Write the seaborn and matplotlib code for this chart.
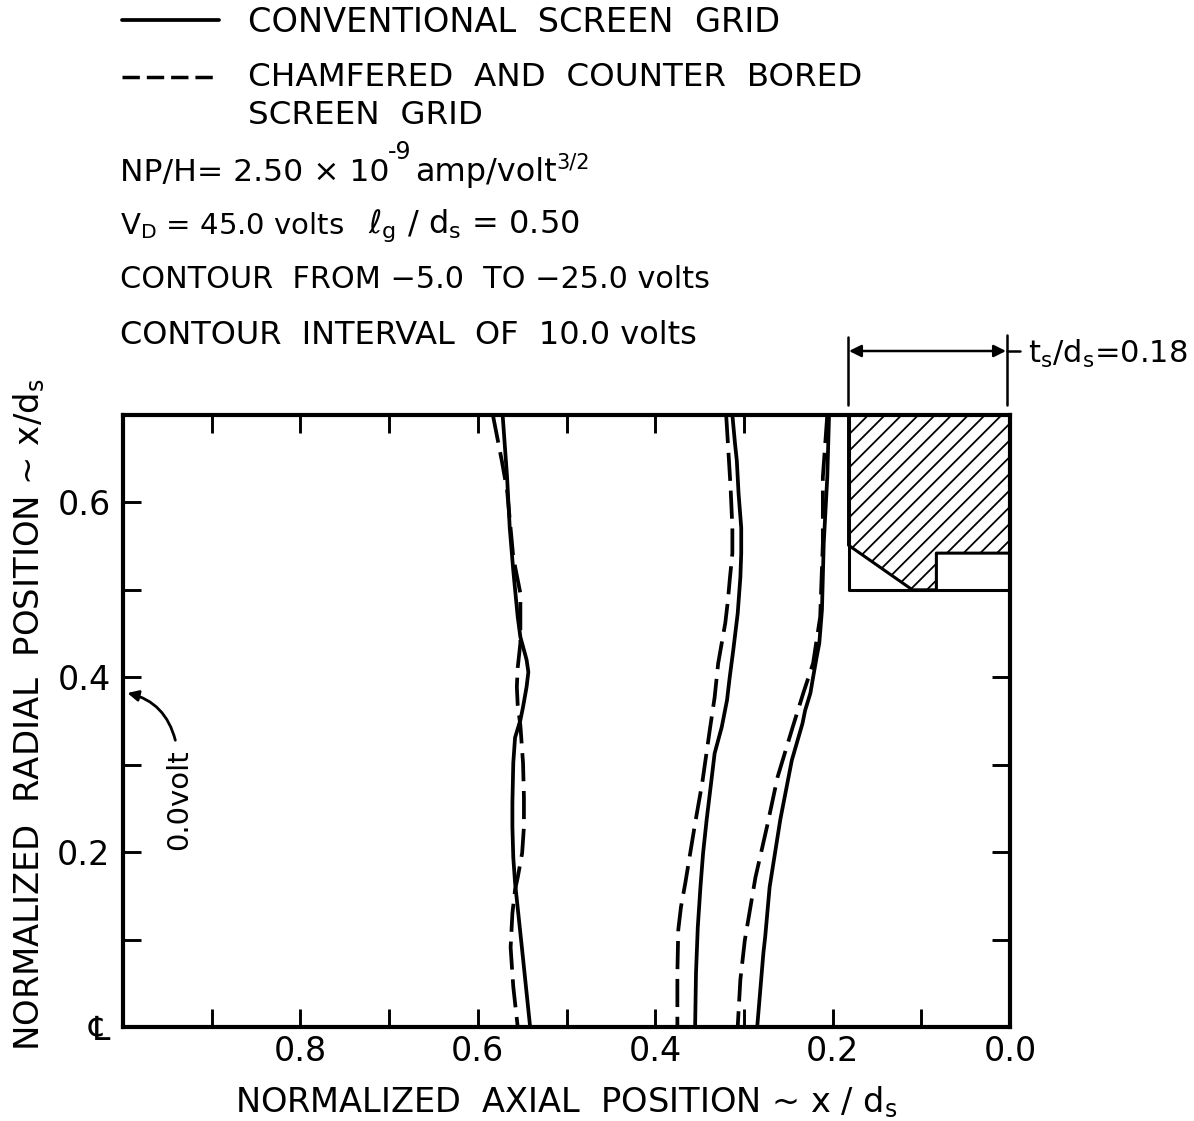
# Screen grid potential contours, conventional vs chamfered grid
import pandas as pd
import matplotlib
matplotlib.use("Agg")
import matplotlib.pyplot as plt
from matplotlib.lines import Line2D
import seaborn as sns

W, H = 1194, 1121

# contour values (axial, radial)
solid_1_x = [.572, .567, .564, .560, .555, .552, .549, .545, .543, .545, .549, .552, .558, .560, .561, .561, .560, .558, .550, .541]
solid_1_y = [.700, .629, .571, .522, .469, .446, .435, .420, .406, .389, .366, .351, .331, .302, .256, .229, .194, .165, .088, .000]
dashed_1_x = [.583, .573, .567, .560, .552, .552, .552, .555, .556, .555, .552, .549, .548, .548, .550, .555, .558, .561, .563, .560, .555]
dashed_1_y = [.700, .648, .614, .537, .496, .462, .439, .411, .389, .368, .345, .302, .263, .229, .199, .171, .157, .130, .091, .046, .000]
solid_2_x = [.313, .310, .308, .306, .303, .303, .304, .307, .312, .316, .319, .325, .333, .337, .342, .346, .349, .352, .354, .355]
solid_2_y = [.700, .667, .648, .610, .571, .542, .514, .473, .431, .400, .374, .343, .313, .279, .237, .199, .160, .114, .062, .000]
dashed_2_x = [.320, .318, .315, .313, .313, .316, .318, .321, .329, .333, .338, .347, .355, .366, .371, .374, .375, .375]
dashed_2_y = [.700, .667, .617, .571, .542, .511, .488, .462, .416, .377, .343, .279, .233, .165, .137, .111, .062, .000]
solid_3_x = [.204, .206, .210, .212, .215, .218, .222, .225, .231, .234, .246, .259, .271, .276, .278, .285]
solid_3_y = [.700, .629, .553, .477, .439, .423, .400, .382, .362, .347, .305, .237, .160, .103, .085, .000]
dashed_3_x = [.206, .211, .211, .214, .222, .233, .245, .262, .274, .287, .299, .304, .307]
dashed_3_y = [.700, .629, .553, .469, .416, .382, .343, .286, .229, .171, .099, .054, .000]

# grid cross section
grid_x = [.182, .000, .000, .083, .083, .110, .182]
grid_y = [.700, .700, .542, .542, .500, .500, .551]
box_x = [.182, .182, .000]
box_y = [.700, .500, .500]

x_major = [0.8, 0.6, 0.4, 0.2, 0.0]
x_major_labels = ["0.8", "0.6", "0.4", "0.2", "0.0"]
x_minor = [0.9, 0.7, 0.5, 0.3, 0.1]
y_major = [0.0, 0.2, 0.4, 0.6]
y_major_labels = ["℄", "0.2", "0.4", "0.6"]
y_minor = [0.1, 0.3, 0.5]
top_ticks = [0.9, 0.8, 0.7, 0.6, 0.5, 0.4, 0.3]
right_ticks = [0.1, 0.2, 0.3, 0.4, 0.6]

# long table for seaborn
rows = []
for name, kind, xs, ys in [
    ("s1", "solid", solid_1_x, solid_1_y),
    ("d1", "dashed", dashed_1_x, dashed_1_y),
    ("s2", "solid", solid_2_x, solid_2_y),
    ("d2", "dashed", dashed_2_x, dashed_2_y),
    ("s3", "solid", solid_3_x, solid_3_y),
    ("d3", "dashed", dashed_3_x, dashed_3_y),
]:
    rows.append(pd.DataFrame({"curve": name, "kind": kind, "x": xs, "y": ys}))
df = pd.concat(rows)

sns.set_theme(style="ticks")
plt.rcParams["font.family"] = ["DejaVu Sans"]
plt.rcParams["mathtext.default"] = "regular"
plt.rcParams["hatch.linewidth"] = 1.3
plt.rcParams["text.color"] = "black"


def fx(px):
    return px / W


def fy(py):
    return 1 - py / H


fig = plt.figure(figsize=(W / 100, H / 100), dpi=100, facecolor="white")
ax = fig.add_axes([fx(123), fy(1027), (1010 - 123) / W, (1027 - 415) / H])

sns.lineplot(
    data=df, x="x", y="y", units="curve", style="kind",
    dashes={"solid": "", "dashed": (7.5, 2.6)},
    estimator=None, sort=False, color="black", linewidth=2.7,
    legend=False, ax=ax, solid_joinstyle="round", clip_on=True,
)

# hatched grid and its outline
ax.fill(grid_x, grid_y, facecolor="white", edgecolor="black", hatch="//", linewidth=0)
ax.plot(grid_x + grid_x[:1], grid_y + grid_y[:1], color="black", lw=2.2)
ax.plot(box_x, box_y, color="black", lw=2.2)

ax.set_xlim(1.0, 0.0)
ax.set_ylim(0.0, 0.7)
ax.set_xticks(x_major, x_major_labels)
ax.set_xticks(x_minor, minor=True)
ax.set_yticks(y_major, y_major_labels)
ax.set_yticks(y_minor, minor=True)
ax.set_xlabel("")
ax.set_ylabel("")
ax.tick_params(which="both", direction="in", length=13, width=2.1, color="black")
ax.tick_params(axis="x", which="major", labelsize=24, pad=6, labelcolor="black")
ax.tick_params(axis="y", which="major", labelsize=24, pad=9, labelcolor="black")
for spine in ax.spines.values():
    spine.set_linewidth(3)
    spine.set_color("black")

top = ax.secondary_xaxis("top")
top.set_xticks(top_ticks, [""] * len(top_ticks))
top.tick_params(direction="in", length=13, width=2.1, color="black")
right = ax.secondary_yaxis("right")
right.set_yticks(right_ticks, [""] * len(right_ticks))
right.tick_params(direction="in", length=13, width=2.1, color="black")
top.spines["top"].set_visible(False)
right.spines["right"].set_visible(False)

# 0.0 volt callout
ax.annotate(
    "", xy=(.995, .382), xytext=(.941, .328),
    arrowprops=dict(arrowstyle="-|>", color="black", lw=2, mutation_scale=16,
                    connectionstyle="arc3,rad=0.3", shrinkA=0, shrinkB=0),
)
fig.text(fx(179), fy(800), "0.0volt", rotation=90, ha="center", va="center", fontsize=21)

# axis titles
fig.text(fx(566), fy(1102), "NORMALIZED  AXIAL  POSITION ~ x / d$_s$", ha="center", va="center", fontsize=24.2)
fig.text(fx(29), fy(715), "NORMALIZED  RADIAL  POSITION ~ x/d$_s$", rotation=90, ha="center", va="center", fontsize=24.4)

# key and run conditions
fig.add_artist(Line2D([fx(122), fx(219)], [fy(20), fy(20)], color="black", lw=2.7))
fig.add_artist(Line2D([fx(122), fx(219)], [fy(77), fy(77)], color="black", lw=2.5, ls=(0, (5, 2))))


def label(px, py, s, size=23, **kw):
    fig.text(fx(px), fy(py + 2), s, ha="left", va="center", fontsize=size, **kw)


label(248, 20, "CONVENTIONAL  SCREEN  GRID", size=24.2)
label(248, 76, "CHAMFERED  AND  COUNTER  BORED", size=23.4)
label(248, 114, "SCREEN  GRID", size=23.4)
label(120, 170, "NP/H= 2.50 × 10", size=22.6)
label(388, 150, "-9", size=17)
label(415, 171, "amp/volt")
label(556, 161, "3/2", size=15)
label(120, 224, "V$_D$ = 45.0 volts", size=21)
label(368, 224, "ℓ$_g$ / d$_s$ = 0.50")
label(120, 278, "CONTOUR  FROM −5.0  TO −25.0 volts", size=21.8)
label(120, 333, "CONTOUR  INTERVAL  OF  10.0 volts")
label(1028, 352, "t$_s$/d$_s$=0.18", size=22)

# thickness dimension above the grid
fig.add_artist(Line2D([fx(848), fx(848)], [fy(337), fy(405)], color="black", lw=1.8))
fig.add_artist(Line2D([fx(1007), fx(1007)], [fy(335), fy(405)], color="black", lw=1.8))
fig.add_artist(Line2D([fx(1007), fx(1020)], [fy(351), fy(351)], color="black", lw=1.8))
ax.annotate(
    "", xy=(fx(849), fy(351)), xytext=(fx(1006), fy(351)),
    xycoords="figure fraction", textcoords="figure fraction", annotation_clip=False,
    arrowprops=dict(arrowstyle="<|-|>", color="black", lw=1.8, mutation_scale=18, shrinkA=0, shrinkB=0),
)

fig.savefig("out.png", dpi=100)
